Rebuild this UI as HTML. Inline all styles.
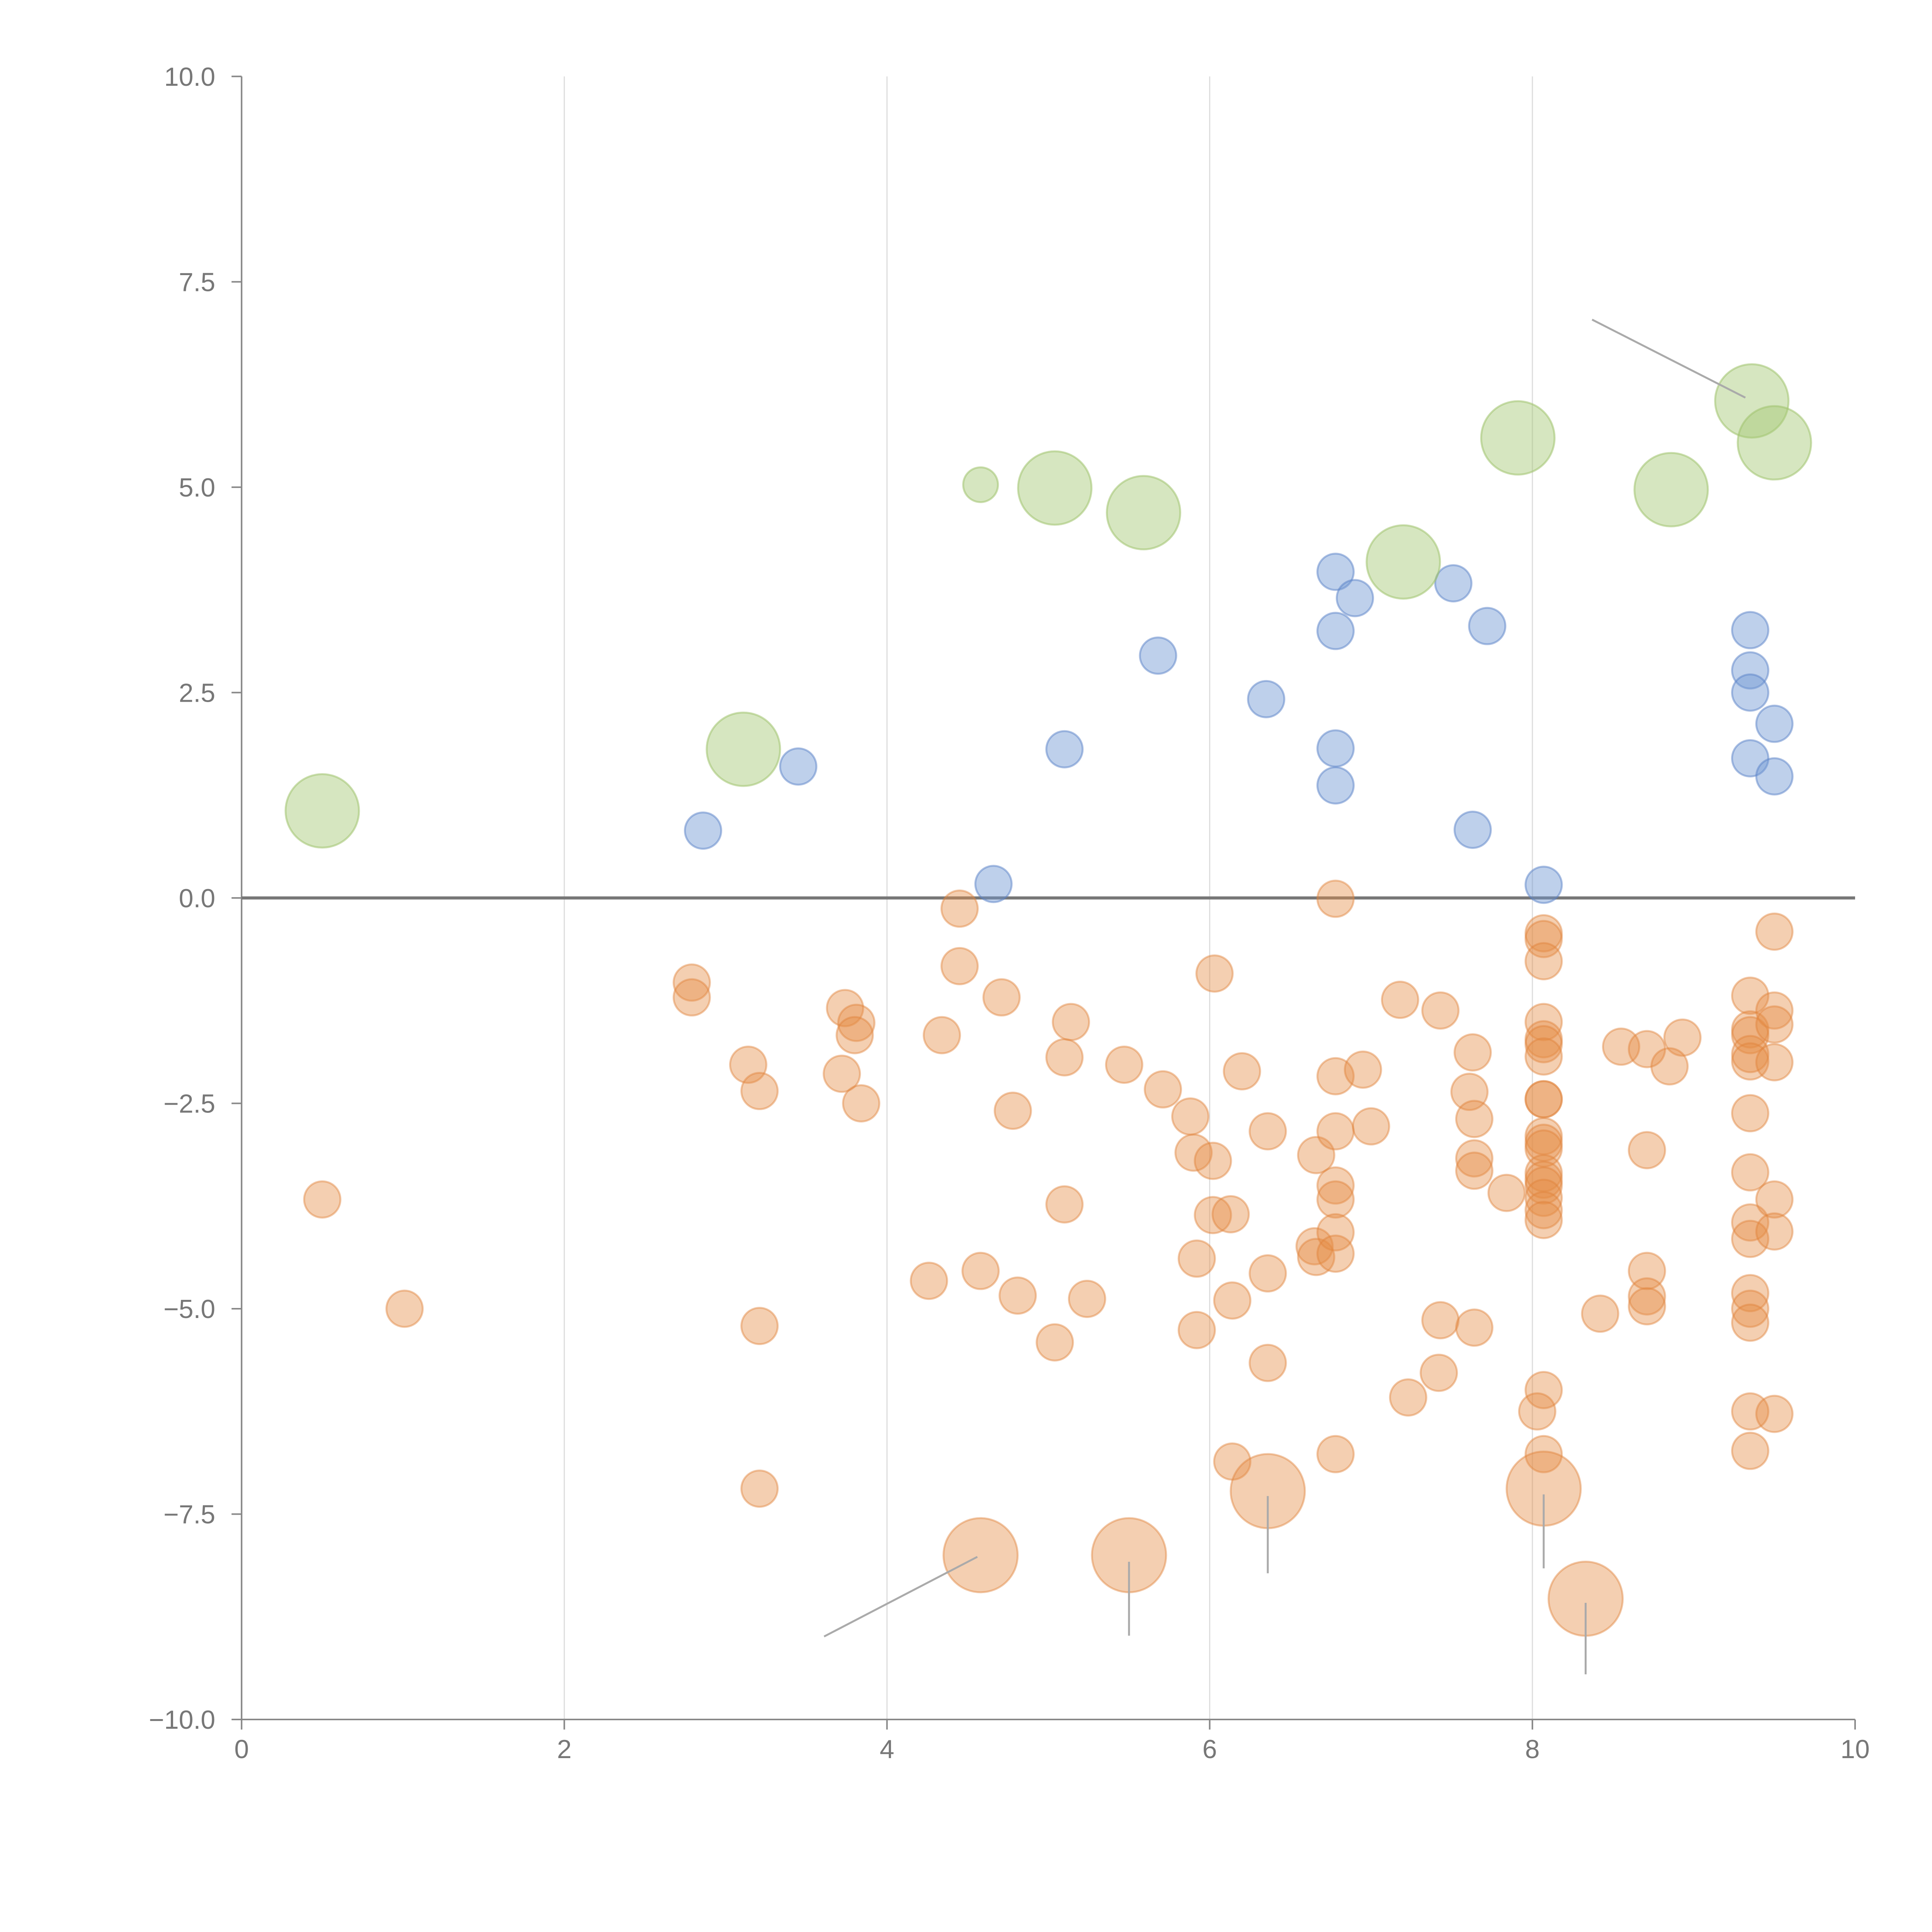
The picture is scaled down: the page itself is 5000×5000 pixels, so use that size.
<!DOCTYPE html>
<html><head><meta charset="utf-8"><style>
html,body{margin:0;padding:0;background:#fff;}
svg{display:block;}
text{font-family:"Liberation Sans",Arial,sans-serif;fill:#777;}
</style></head><body>
<svg id="chart" width="5000" height="5000" viewBox="0 0 5000 5000" xmlns="http://www.w3.org/2000/svg">
<g id="grid"></g>
<g id="axes"></g>
<g id="marks"></g>
<g id="notes"></g>
</svg>
<script>
const xTicks=[0,2,4,6,8,10];
const yTicks=[10,7.5,5,2.5,0,-2.5,-5,-7.5,-10];
const yTickLabels=["10.0","7.5","5.0","2.5","0.0","\u22122.5","\u22125.0","\u22127.5","\u221210.0"];
const greenX=[0.50,3.11,4.58,5.04,5.59,7.20,7.91,8.86,9.36,9.50];
const greenY=[1.06,1.81,5.03,4.99,4.69,4.09,5.60,4.97,6.05,5.54];
const greenSize=[3,3,1,3,3,3,3,3,3,3];
const blueX=[2.86,3.45,4.66,5.10,5.68,6.35,6.78,6.90,6.78,6.78,6.78,7.51,7.72,7.63,8.07,9.35,9.35,9.35,9.50,9.35,9.50];
const blueY=[0.82,1.60,0.17,1.81,2.95,2.42,3.97,3.65,3.25,1.82,1.37,3.83,3.31,0.83,0.16,3.26,2.77,2.50,2.12,1.70,1.48];
const orangeX=[0.50,1.01,2.79,2.79,3.14,3.21,3.21,3.21,3.74,3.81,3.80,3.72,3.84,4.34,4.45,4.45,4.71,4.78,4.26,4.58,4.81,5.14,5.10,5.10,5.04,5.24,5.47,5.71,5.88,5.90,6.02,6.03,6.20,6.36,6.02,6.13,5.92,6.14,5.92,6.36,6.36,6.14,6.66,6.65,6.66,6.78,6.78,6.95,6.78,7.00,6.78,6.78,6.78,6.78,6.78,7.18,7.43,7.63,7.61,7.64,7.64,7.64,7.84,7.43,7.64,7.42,7.23,
8.07,8.07,8.07,8.07,8.07,8.07,8.07,8.07,8.07,8.07,8.07,8.07,8.07,8.07,8.07,8.07,8.07,8.07,8.07,8.03,8.07,
8.42,8.55,8.71,8.93,8.85,8.71,8.71,8.71,8.71,
9.35,9.35,9.35,9.35,9.35,9.35,9.35,9.35,9.35,9.35,9.35,9.35,9.35,9.35,
9.50,9.50,9.50,9.50,9.50,9.50,9.50];
const orangeY=[-3.67,-5.00,-1.03,-1.21,-2.03,-2.35,-5.21,-7.19,-1.34,-1.52,-1.67,-2.14,-2.50,-1.67,-0.13,-0.83,-1.21,-2.59,-4.66,-4.54,-4.84,-1.51,-1.94,-3.73,-5.41,-4.88,-2.03,-2.33,-2.66,-3.10,-3.20,-0.92,-2.11,-2.84,-3.86,-3.85,-4.39,-4.90,-5.26,-4.57,-5.66,-6.86,-3.13,-4.24,-4.37,-0.01,-2.17,-2.09,-2.84,-2.78,-3.50,-3.67,-4.07,-4.33,-6.77,-1.24,-1.37,-1.88,-2.36,-2.69,-3.17,-3.32,-3.59,-5.14,-5.23,-5.78,-6.08,
-0.43,-0.50,-0.77,-1.51,-1.72,-1.78,-1.93,-2.45,-2.45,-2.90,-2.98,-3.05,-3.35,-3.43,-3.50,-3.65,-3.80,-3.92,-5.99,-6.25,-6.77,
-5.06,-1.81,-1.84,-1.70,-2.05,-3.07,-4.54,-4.85,-4.97,
-1.19,-1.60,-1.67,-1.90,-1.99,-2.62,-3.34,-3.95,-4.15,-4.81,-5.00,-5.17,-6.25,-6.73,
-0.41,-1.37,-1.54,-2.00,-3.67,-4.06,-6.28];
const bigOrangeX=[4.58,5.50,6.36,8.07,8.33];
const bigOrangeY=[-8.00,-8.00,-7.22,-7.19,-8.53];
const noteFromX=[3.61,5.50,6.36,8.07,8.33,8.37];
const noteFromY=[-8.99,-8.98,-8.22,-8.16,-9.45,7.04];
const noteToX=[4.56,5.50,6.36,8.07,8.33,9.32];
const noteToY=[-8.02,-8.08,-7.28,-7.26,-8.58,6.09];

const S=3.19;
const X0=196*S,X1=1505*S,Y0=62*S,Y1=1395*S;
const sx=v=>X0+(v-0)/(10-0)*(X1-X0);
const sy=v=>Y0+(10-v)/(20)*(Y1-Y0);
const NS="http://www.w3.org/2000/svg";
function mk(tag,parent,attrs){const e=document.createElementNS(NS,tag);for(const k in attrs)e.setAttribute(k,attrs[k]);parent.appendChild(e);return e;}
const grid=document.getElementById('grid'),axes=document.getElementById('axes'),marks=document.getElementById('marks'),notes=document.getElementById('notes');

xTicks.forEach(t=>{
  if(t>0&&t<10){const g=mk('line',grid,{x1:sx(t),x2:sx(t),y1:Y0,y2:Y1,stroke:'#ddd','stroke-width':3});
  
  }
  const tk=mk('line',axes,{x1:sx(t),x2:sx(t),y1:Y1,y2:Y1+26,stroke:'#888','stroke-width':4});
  
  
  const tx=mk('text',axes,{x:sx(t),y:Y1+100,'font-size':68,'text-anchor':'middle'});
  tx.textContent=t;
  
  
});
yTicks.forEach((t,i)=>{
  const tk=mk('line',axes,{x1:X0-26,x2:X0,y1:sy(t),y2:sy(t),stroke:'#888','stroke-width':4});
  
  
  const tx=mk('text',axes,{x:X0-68,y:sy(t)+24,'font-size':68,'text-anchor':'end'});
  tx.textContent=yTickLabels[i];
  
  
});
const ya=mk('line',axes,{x1:X0,x2:X0,y1:Y0,y2:Y1,stroke:'#888','stroke-width':4});


const xa=mk('line',axes,{x1:X0,x2:X1,y1:Y1,y2:Y1,stroke:'#888','stroke-width':4});


const zl=mk('line',axes,{x1:X0,x2:X1,y1:sy(0),y2:sy(0),stroke:'#777','stroke-width':8});



orangeX.forEach((v,i)=>{
  const c=mk('circle',marks,{cx:sx(v),cy:sy(orangeY[i]),r:47,fill:'rgba(228,140,70,0.42)',stroke:'rgba(225,130,60,0.45)','stroke-width':5});
  
  
});
bigOrangeX.forEach((v,i)=>{
  const c=mk('circle',marks,{cx:sx(v),cy:sy(bigOrangeY[i]),r:96,fill:'rgba(228,140,70,0.42)',stroke:'rgba(225,130,60,0.45)','stroke-width':5});
  
  
});
blueX.forEach((v,i)=>{
  const c=mk('circle',marks,{cx:sx(v),cy:sy(blueY[i]),r:47,fill:'rgba(110,150,210,0.45)',stroke:'rgba(90,130,200,0.5)','stroke-width':5});
  
  
});
greenX.forEach((v,i)=>{
  const c=mk('circle',marks,{cx:sx(v),cy:sy(greenY[i]),r:greenSize[i]===1?45:95,fill:'rgba(165,200,115,0.45)',stroke:'rgba(160,195,110,0.55)','stroke-width':5});
  
  
});
noteFromX.forEach((v,i)=>{
  const l=mk('line',notes,{x1:sx(v),y1:sy(noteFromY[i]),x2:sx(noteToX[i]),y2:sy(noteToY[i]),stroke:'#aaa','stroke-width':5});
  
  
});
</script>
</body></html>
